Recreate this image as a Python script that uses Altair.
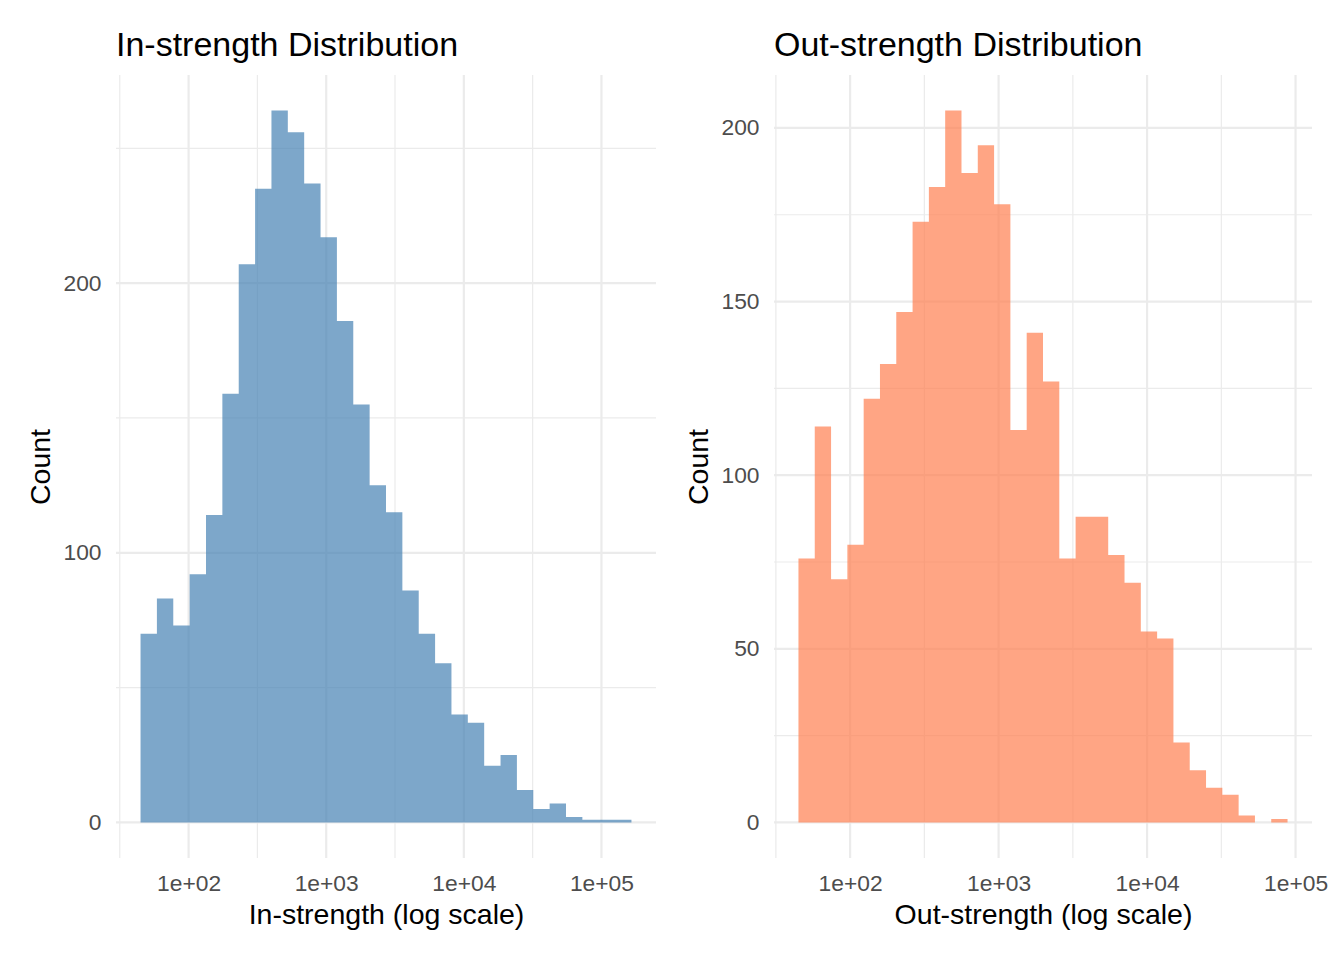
import altair as alt
import pandas as pd

# ---- data (30 bins on log10 scale) ----
in_counts = [70, 83, 73, 92, 114, 159, 207, 235, 264, 256, 237, 217, 186, 155, 125,
             115, 86, 70, 59, 40, 37, 21, 25, 12, 5, 7, 2, 1, 1, 1]
in_log_start = 1.651
in_log_width = 0.1189

out_counts = [76, 114, 70, 80, 122, 132, 147, 173, 183, 205, 187, 195, 178, 113, 141,
              127, 76, 88, 88, 77, 69, 55, 53, 23, 15, 10, 8, 2, 0, 1]
out_log_start = 1.652
out_log_width = 0.1098

x_major = [100, 1000, 10000, 100000]
x_minor_exp = [1.5, 2.5, 3.5, 4.5]
in_y_major = [0, 100, 200]
in_y_minor = [50, 150, 250]
out_y_major = [0, 50, 100, 150, 200]
out_y_minor = [25, 75, 125, 175]

FONT = "Liberation Sans"
GRID = "#EBEBEB"


def panel(counts, log_start, log_width, y_major, y_minor, color, title, xtitle, w, h):
    n = len(counts)
    edges = [10 ** (log_start + i * log_width) for i in range(n + 1)]
    # step outline of the histogram: one point per bin start, plus the last bin end
    bars = pd.DataFrame({"edge": edges, "count": list(counts) + [counts[-1]]})
    log_end = log_start + n * log_width
    rng = log_end - log_start
    xdom = [10 ** (log_start - 0.05 * rng), 10 ** (log_end + 0.05 * rng)]
    ymax = max(counts)
    ydom = [-0.05 * ymax, 1.05 * ymax]

    xs = alt.Scale(type="log", domain=xdom, nice=False, zero=False)
    ys = alt.Scale(domain=ydom, nice=False, zero=False)

    xaxis = alt.Axis(
        values=x_major, grid=False, domain=False, ticks=False, tickSize=0,
        labelExpr="'1e+' + format(round(log(datum.value) / LN10), '02d')",
        labelFont=FONT, labelFontSize=22.8, labelColor="#4D4D4D",
        labelPadding=14, labelFlush=False, labelOverlap=False,
        title=xtitle, titleFont=FONT, titleFontSize=28.5, titleColor="#000000",
        titleFontWeight="normal", titlePadding=6)
    yaxis = alt.Axis(
        values=y_major, grid=False, domain=False, ticks=False, tickSize=0,
        format="d", labelFont=FONT, labelFontSize=22.8, labelColor="#4D4D4D",
        labelPadding=15, labelFlush=False, labelOverlap=False,
        title="Count", titleFont=FONT, titleFontSize=28.5, titleColor="#000000",
        titleFontWeight="normal", titlePadding=7)

    xminor = [10 ** e for e in x_minor_exp if xdom[0] <= 10 ** e <= xdom[1]]
    vmaj = pd.DataFrame({"v": [v for v in x_major if xdom[0] <= v <= xdom[1]]})
    vmin = pd.DataFrame({"v": xminor})
    hmaj = pd.DataFrame({"v": y_major})
    hmin = pd.DataFrame({"v": y_minor})

    gv_min = alt.Chart(vmin).mark_rule(color=GRID, strokeWidth=1.2).encode(
        x=alt.X("v:Q", scale=xs, axis=xaxis))
    gv_maj = alt.Chart(vmaj).mark_rule(color=GRID, strokeWidth=2.2).encode(
        x=alt.X("v:Q", scale=xs, axis=xaxis))
    gh_min = alt.Chart(hmin).mark_rule(color=GRID, strokeWidth=1.2).encode(
        y=alt.Y("v:Q", scale=ys, axis=yaxis))
    gh_maj = alt.Chart(hmaj).mark_rule(color=GRID, strokeWidth=2.2).encode(
        y=alt.Y("v:Q", scale=ys, axis=yaxis))

    hist = alt.Chart(bars).mark_area(color=color, opacity=0.7,
                                     interpolate="step-after").encode(
        x=alt.X("edge:Q", scale=xs, axis=xaxis),
        y=alt.Y("count:Q", scale=ys, axis=yaxis),
        y2=alt.datum(0),
    )

    return alt.layer(gh_min, gh_maj, gv_min, gv_maj, hist).properties(
        width=w, height=h,
        title=alt.TitleParams(title, anchor="start", frame="group", font=FONT,
                              fontSize=34, fontWeight="normal", color="#000000",
                              baseline="alphabetic", offset=-16),
    )


left = panel(in_counts, in_log_start, in_log_width, in_y_major, in_y_minor,
             "steelblue", "In-strength Distribution", "In-strength (log scale)", 540, 783)
right = panel(out_counts, out_log_start, out_log_width, out_y_major, out_y_minor,
              "coral", "Out-strength Distribution", "Out-strength (log scale)", 538, 783)

chart = alt.hconcat(left, right, spacing=26).properties(
    padding={"left": 18, "top": 20, "right": 5, "bottom": 5}
).configure(background="white").configure_view(stroke="transparent", strokeWidth=0)

chart.save("out.html", embed_options={"renderer": "svg", "actions": False})
